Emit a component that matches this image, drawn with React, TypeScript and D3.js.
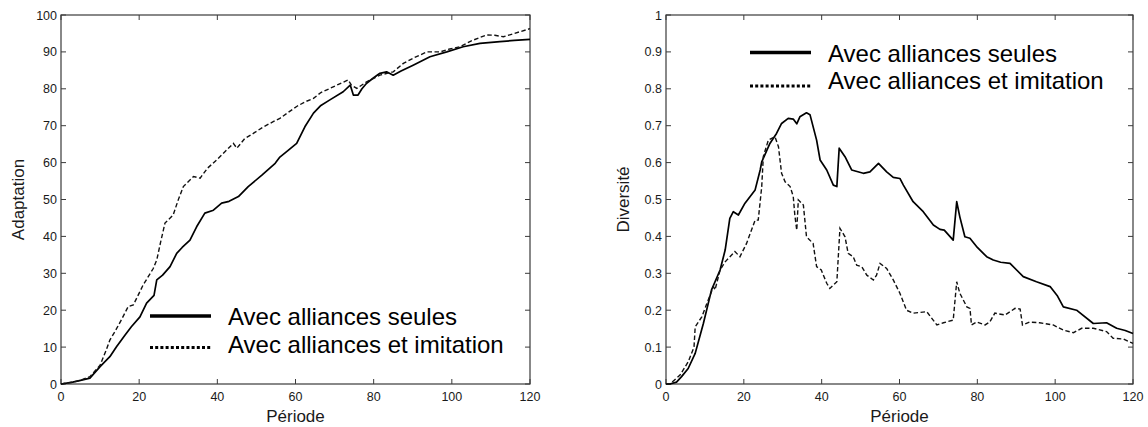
import { scaleLinear, line } from 'd3';

// values (période, valeur)
const periodTicks = [0, 20, 40, 60, 80, 100, 120];
const adaptTicks = [0, 10, 20, 30, 40, 50, 60, 70, 80, 90, 100];
const diversTicks = [0, 0.1, 0.2, 0.3, 0.4, 0.5, 0.6, 0.7, 0.8, 0.9, 1];
const legendLabels = ['Avec alliances seules', 'Avec alliances et imitation'];

const adaptSeules: [number, number][] = [
  [0, 0], [3, 0.5], [5, 1], [7.4, 1.6], [10, 4.7], [12.5, 7.4], [14.2, 10.1], [16.4, 13.3],
  [18, 15.5], [20.2, 18.2], [21.9, 21.9], [23.8, 24], [24.5, 28.2], [26, 29.5], [27.9, 31.8],
  [29.6, 35.4], [31, 37], [33, 39], [34.7, 42.6], [36.8, 46.3], [39, 47.1], [41.1, 49],
  [43, 49.5], [45.4, 50.8], [47.9, 53.5], [51.4, 56.6], [54.8, 59.8], [56, 61.5], [58.2, 63.4],
  [60.3, 65.2], [62.4, 69.7], [64.6, 73.4], [66.5, 75.5], [68.8, 77], [72.2, 79.2], [74, 81],
  [74.8, 78.3], [76, 78.3], [77, 80], [78.2, 81.5], [80, 83], [81.6, 84.2], [83.3, 84.6],
  [85, 83.7], [87, 84.8], [90.1, 86.4], [94.4, 88.7], [98.7, 90], [102.9, 91.4], [107.2, 92.3],
  [112.3, 92.8], [116, 93.1], [120, 93.4],
];

const adaptImitation: [number, number][] = [
  [0, 0], [3, 0.5], [5, 1], [7.4, 2], [10, 5.1], [11.5, 9], [12.5, 11.9], [13.8, 14.2],
  [15.5, 17.5], [17.2, 21], [18.5, 21.4], [21, 26.8], [23.6, 31.3], [24.5, 33.6], [25.5, 38.5],
  [26.6, 43.6], [28.7, 45.8], [30, 49.9], [31.3, 53.5], [33.9, 56.2], [35.6, 55.8], [37.5, 58.5],
  [39.8, 60.7], [42, 63], [44.1, 65.2], [45, 63.9], [47, 66.5], [49.2, 67.9], [51.5, 69.5],
  [54.3, 71.1], [56, 72], [58, 73.5], [60.3, 75.2], [62.5, 76.5], [64.6, 77.4], [66.5, 79],
  [68.8, 80.1], [71, 81.2], [73.5, 82.4], [74.3, 81], [75.7, 80.1], [78.2, 81.9], [81.6, 83.7],
  [85, 84.6], [87.6, 86.9], [90.5, 88.5], [93.6, 90], [97, 90], [99.5, 90.8], [102.1, 91.4],
  [105, 93], [108.9, 94.6], [111, 94.5], [113.2, 94.1], [116, 95], [120, 96.3],
];

const diversSeules: [number, number][] = [
  [0, 0], [1, 0], [2.7, 0.005], [4, 0.02], [5.7, 0.042], [7.5, 0.083], [9.6, 0.164], [11.7, 0.255],
  [13.9, 0.309], [15.2, 0.363], [16.4, 0.449], [17.3, 0.467], [18.6, 0.458], [20.3, 0.49],
  [22.9, 0.526], [24.2, 0.58], [24.6, 0.602], [26.7, 0.652], [28.4, 0.679], [29.7, 0.706],
  [31.4, 0.72], [32.7, 0.718], [33.6, 0.705], [34.4, 0.724], [36.1, 0.735], [37, 0.73],
  [38.7, 0.661], [39.6, 0.607], [41.3, 0.58], [43, 0.539], [43.9, 0.535], [44.5, 0.639],
  [46, 0.616], [47.7, 0.58], [50.7, 0.571], [52.4, 0.575], [54.6, 0.598], [56.7, 0.575],
  [58.4, 0.56], [60.1, 0.557], [61, 0.539], [63.5, 0.494], [66.1, 0.467], [68.7, 0.431],
  [70.4, 0.419], [71.5, 0.417], [73.8, 0.39], [74.7, 0.494], [75.5, 0.453], [76.8, 0.399],
  [78.1, 0.395], [80, 0.37], [82.4, 0.345], [84.1, 0.336], [86, 0.33], [88.4, 0.327],
  [91.8, 0.291], [95.2, 0.277], [98.7, 0.264], [100.5, 0.24], [102.1, 0.209], [105.5, 0.2],
  [109.8, 0.164], [113.2, 0.166], [115.8, 0.151], [118, 0.145], [120, 0.137],
];

const diversImitation: [number, number][] = [
  [0, 0], [1, 0], [3.6, 0.024], [5.7, 0.06], [7.2, 0.1], [7.5, 0.155], [9.2, 0.182], [10.5, 0.218],
  [12.2, 0.264], [12.6, 0.255], [13.9, 0.309], [15.2, 0.331], [17.7, 0.359], [19, 0.345],
  [20.7, 0.381], [22.9, 0.444], [23.7, 0.444], [24.6, 0.535], [25, 0.616], [26.3, 0.661],
  [28, 0.67], [28.9, 0.643], [29.7, 0.571], [30.6, 0.548], [31.9, 0.535], [32.7, 0.508],
  [33.1, 0.458], [33.6, 0.417], [34, 0.499], [35.3, 0.485], [36.1, 0.399], [37.8, 0.381],
  [38.7, 0.318], [39.9, 0.309], [41.3, 0.273], [42.1, 0.259], [43.9, 0.277], [44.7, 0.422],
  [46, 0.399], [46.8, 0.354], [48.1, 0.345], [49, 0.322], [50.3, 0.318], [51.6, 0.295],
  [53.3, 0.282], [54.1, 0.295], [55, 0.327], [56.7, 0.313], [58.4, 0.282], [60.1, 0.246],
  [61.8, 0.2], [63.5, 0.192], [67, 0.196], [69.6, 0.16], [71.3, 0.166], [73.8, 0.173],
  [74.7, 0.277], [75.5, 0.246], [77.3, 0.209], [78.1, 0.205], [78.5, 0.16], [79.8, 0.168],
  [82, 0.16], [83.2, 0.168], [84.5, 0.192], [87.1, 0.187], [89.7, 0.205], [91, 0.203],
  [91.6, 0.16], [93.4, 0.168], [96, 0.166], [99.5, 0.16], [102.1, 0.146], [104.7, 0.139],
  [106.8, 0.151], [109.8, 0.151], [113.2, 0.142], [114.9, 0.124], [117.5, 0.122], [120, 0.11],
];

const FONT = 'Liberation Sans, Arial, Helvetica, sans-serif';
const FRAME = '#3a3a3a';

function Panel({ left, right, top, bottom, yTicks, yMax, yLabel, solid, dashed, legend }) {
  const x = scaleLinear().domain([0, 120]).range([left, right]);
  const y = scaleLinear().domain([0, yMax]).range([bottom, top]);
  const path = line<[number, number]>()
    .x((d) => x(d[0]))
    .y((d) => y(d[1]));
  const tk = 5;

  return (
    <g>
      <rect x={left} y={top} width={right - left} height={bottom - top} fill='none' stroke={FRAME} strokeWidth={1.2} />
      {periodTicks.map((t) => (
        <g key={`x${t}`}>
          <line x1={x(t)} x2={x(t)} y1={bottom} y2={bottom - tk} stroke={FRAME} />
          <line x1={x(t)} x2={x(t)} y1={top} y2={top + tk} stroke={FRAME} />
          <text x={x(t)} y={bottom + 17} textAnchor='middle' fontSize={12.5} fill='#1a1a1a'>
            {t}
          </text>
        </g>
      ))}
      {yTicks.map((v) => (
        <g key={`y${v}`}>
          <line x1={left} x2={left + tk} y1={y(v)} y2={y(v)} stroke={FRAME} />
          <line x1={right} x2={right - tk} y1={y(v)} y2={y(v)} stroke={FRAME} />
          <text x={left - 4} y={y(v) + 4.5} textAnchor='end' fontSize={12.5} fill='#1a1a1a'>
            {v}
          </text>
        </g>
      ))}
      <text x={(left + right) / 2} y={422} textAnchor='middle' fontSize={17} fill='#1a1a1a'>
        Période
      </text>
      <text
        transform={`translate(${left - 37}, ${(top + bottom) / 2}) rotate(-90)`}
        textAnchor='middle'
        fontSize={17}
        fill='#1a1a1a'
      >
        {yLabel}
      </text>

      <path d={path(solid)} fill='none' stroke='#000' strokeWidth={1.7} strokeLinejoin='round' />
      <path d={path(dashed)} fill='none' stroke='#111' strokeWidth={1.4} strokeDasharray='4.5,2.5' />

      <g>
        <line x1={legend.x} x2={legend.x + 61} y1={legend.y1} y2={legend.y1} stroke='#000' strokeWidth={3.5} />
        <line
          x1={legend.x}
          x2={legend.x + 61}
          y1={legend.y2}
          y2={legend.y2}
          stroke='#000'
          strokeWidth={3}
          strokeDasharray='3,2.2'
        />
        <text x={legend.x + 78} y={legend.b1} fontSize={24} fill='#000'>
          {legendLabels[0]}
        </text>
        <text x={legend.x + 78} y={legend.b2} fontSize={24} fill='#000'>
          {legendLabels[1]}
        </text>
      </g>
    </g>
  );
}

export default function App() {
  return (
    <svg
      width={1148}
      height={427}
      style={{ position: 'absolute', left: 0, top: 0, background: '#fff', fontFamily: FONT }}
    >
      <Panel
        left={61}
        right={530}
        top={15}
        bottom={384}
        yTicks={adaptTicks}
        yMax={100}
        yLabel='Adaptation'
        solid={adaptSeules}
        dashed={adaptImitation}
        legend={{ x: 150, y1: 316, y2: 347.5, b1: 325, b2: 353 }}
      />
      <Panel
        left={666}
        right={1133}
        top={15}
        bottom={384}
        yTicks={diversTicks}
        yMax={1}
        yLabel='Diversité'
        solid={diversSeules}
        dashed={diversImitation}
        legend={{ x: 750, y1: 52.5, y2: 86, b1: 61.5, b2: 89 }}
      />
    </svg>
  );
}
